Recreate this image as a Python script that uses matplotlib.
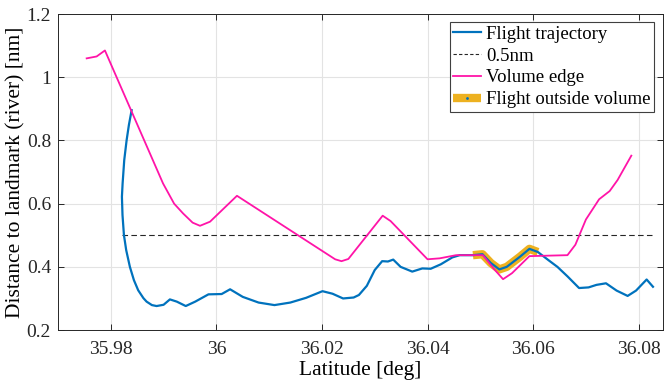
import matplotlib
matplotlib.use("Agg")
import matplotlib.pyplot as plt
from matplotlib.lines import Line2D
import numpy as np

# Flight trajectory (latitude [deg], distance [nm])
traj_lat = [35.98395, 35.98343, 35.9830, 35.98255, 35.98224, 35.98211, 35.98222,
            35.98249, 35.98292, 35.98362, 35.98438, 35.98519, 35.98618,
            35.98678, 35.98779, 35.98868, 35.9900, 35.9912, 35.9925, 35.9942,
            35.9960, 35.9985, 36.0010, 36.0026, 36.0050, 36.0080, 36.0110,
            36.0140, 36.0170, 36.0201, 36.0220, 36.0240, 36.0260, 36.0270,
            36.0285, 36.0300, 36.0314, 36.0325, 36.0335, 36.0349, 36.0371,
            36.0390, 36.0406, 36.0425, 36.0447, 36.0461, 36.0486, 36.0504,
            36.0520, 36.0536, 36.0550, 36.0575, 36.0593, 36.0609, 36.0630,
            36.0646, 36.0665, 36.0687, 36.0705, 36.0720, 36.0738, 36.0758,
            36.0779, 36.0795, 36.0815, 36.0827]
traj_dist = [0.896, 0.849, 0.801, 0.738, 0.664, 0.622, 0.564,
             0.501, 0.453, 0.400, 0.358, 0.326, 0.301,
             0.290, 0.279, 0.276, 0.280, 0.297, 0.290, 0.276,
             0.290, 0.313, 0.314, 0.329, 0.305, 0.287, 0.279,
             0.287, 0.302, 0.323, 0.315, 0.300, 0.303, 0.311,
             0.340, 0.390, 0.418, 0.417, 0.423, 0.400, 0.385,
             0.395, 0.394, 0.408, 0.430, 0.437, 0.437, 0.440,
             0.412, 0.392, 0.400, 0.432, 0.457, 0.447, 0.420,
             0.400, 0.370, 0.333, 0.335, 0.343, 0.348, 0.325,
             0.308, 0.325, 0.360, 0.337]

# Volume edge
edge_lat = [35.97543, 35.97732, 35.97889, 35.9899, 35.9920, 35.9937, 35.9955,
            35.9969, 35.9988, 36.0039, 36.0225, 36.0237, 36.0250, 36.0315,
            36.0330, 36.0400, 36.0423, 36.0454, 36.0505, 36.0525, 36.0543,
            36.0560, 36.0593, 36.0665, 36.0680, 36.0700, 36.0725, 36.0745,
            36.0760, 36.0786]
edge_dist = [1.060, 1.066, 1.085, 0.664, 0.600, 0.569, 0.540,
             0.530, 0.543, 0.625, 0.424, 0.418, 0.425, 0.562,
             0.545, 0.424, 0.427, 0.437, 0.437, 0.395, 0.361,
             0.380, 0.434, 0.437, 0.470, 0.550, 0.614, 0.640,
             0.675, 0.752]

threshold = 0.5
outside_range = (36.0486, 36.0609)

blue = "#0072BD"
magenta = "#FF14A8"
orange = "#EDB120"

plt.rcParams["font.family"] = ["Liberation Serif", "DejaVu Serif"]
plt.rcParams["font.size"] = 14

fig = plt.figure(figsize=(6.65, 3.82), dpi=100)
ax = fig.add_axes([0.0872, 0.136, 0.9098, 0.827])

lat = np.array(traj_lat)
dist = np.array(traj_dist)
mask = (lat >= outside_range[0]) & (lat <= outside_range[1])

ax.plot(lat[mask], dist[mask], color=orange, lw=6, solid_capstyle="butt",
        solid_joinstyle="round", zorder=2)
ax.plot(lat, dist, color=blue, lw=1.6, solid_joinstyle="round", zorder=3)
ax.plot([lat.min(), lat.max()], [threshold, threshold], color="#262626", lw=0.8,
        ls=(0, (5, 3)), zorder=2)
ax.plot(edge_lat, edge_dist, color=magenta, lw=1.3, solid_joinstyle="round", zorder=3)

ax.set_xlim(35.97, 36.0846)
ax.set_ylim(0.2, 1.2)
ax.set_xticks([35.98, 36.0, 36.02, 36.04, 36.06, 36.08])
ax.set_xticklabels(["35.98", "36", "36.02", "36.04", "36.06", "36.08"])
ax.set_yticks([0.2, 0.4, 0.6, 0.8, 1.0, 1.2])
ax.set_yticklabels(["0.2", "0.4", "0.6", "0.8", "1", "1.2"])
ax.set_xlabel("Latitude [deg]", labelpad=2, fontsize=15.5)
ax.set_ylabel("Distance to landmark (river) [nm]", labelpad=1, fontsize=15.5)

ax.grid(True, color="#e3e3e3", lw=0.8)
ax.set_axisbelow(True)
ax.tick_params(direction="in", top=True, right=True, length=4, width=0.7,
               colors="#262626", labelcolor="#262626")
ax.tick_params(axis="x", pad=8)
ax.tick_params(axis="y", pad=5)
for s in ax.spines.values():
    s.set_color("#262626")
    s.set_linewidth(0.7)

handles = [
    Line2D([], [], color=blue, lw=1.6),
    Line2D([], [], color="#262626", lw=0.8, ls=(0, (3, 2))),
    Line2D([], [], color=magenta, lw=1.3),
    Line2D([], [], color=orange, lw=6, solid_capstyle="butt", marker=".",
           markersize=2, mfc=blue, mec=blue),
]
labels = ["Flight trajectory", "0.5nm", "Volume edge", "Flight outside volume"]
leg = ax.legend(handles, labels, loc="upper right", bbox_to_anchor=(0.992, 0.987),
                fancybox=False, framealpha=1, edgecolor="#404040", fontsize=13.5,
                borderpad=0.2, labelspacing=0.25, handlelength=1.45,
                handletextpad=0.3, borderaxespad=0.2, numpoints=1)
leg.get_frame().set_linewidth(0.8)

fig.savefig("out.png", dpi=100)
